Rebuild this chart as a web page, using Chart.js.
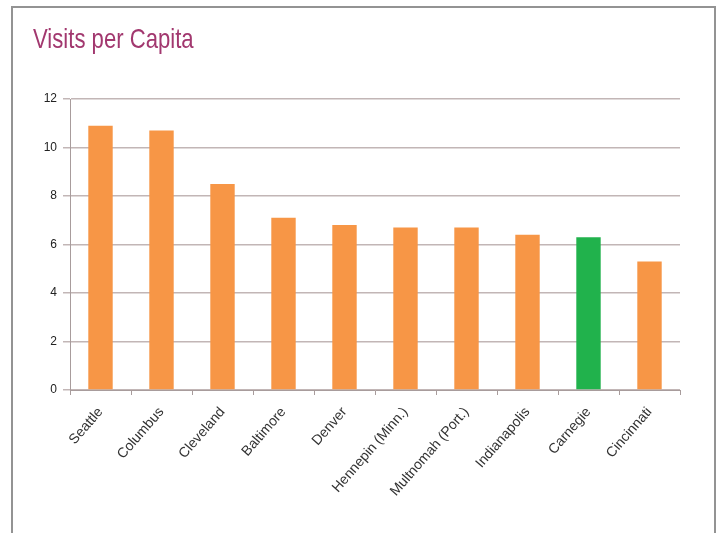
<!DOCTYPE html>
<html>
<head>
<meta charset="utf-8">
<script src="https://cdn.jsdelivr.net/npm/chart.js@4/dist/chart.umd.min.js"></script>
<style>
  html, body { margin: 0; padding: 0; background: #fff; }
  #wrap { position: relative; width: 720px; height: 533px; overflow: hidden; }
  #frame {
    position: absolute; left: 11px; top: 6px; width: 705px; height: 560px;
    border: 2px solid #939393; box-sizing: border-box;
  }
  #title {
    position: absolute; left: 33px; top: 25px; margin: 0;
    font: normal 28px/28px 'Liberation Sans', Arial, sans-serif;
    color: #a2386f; white-space: nowrap;
    transform: scaleX(0.79); transform-origin: left top;
  }
  #chart { position: absolute; left: 0; top: 0; }
</style>
</head>
<body>
<div id="wrap">
  <div id="frame"></div>
  <canvas id="chart" width="720" height="533"></canvas>
  <h1 id="title">Visits per Capita</h1>
</div>
<script>
const libraries = ['Seattle', 'Columbus', 'Cleveland', 'Baltimore', 'Denver',
  'Hennepin (Minn.)', 'Multnomah (Port.)', 'Indianapolis', 'Carnegie', 'Cincinnati'];
const visits = [10.9, 10.7, 8.5, 7.1, 6.8, 6.7, 6.7, 6.4, 6.3, 5.3];
const highlight = 'Carnegie';

const orange = '#f79646';
const green = '#21b24c';
const barColors = libraries.map(name => name === highlight ? green : orange);

const font = "'Liberation Sans', Arial, sans-serif";

new Chart(document.getElementById('chart'), {
  type: 'bar',
  data: {
    labels: libraries,
    datasets: [{
      data: visits,
      backgroundColor: barColors,
      borderWidth: 0,
      barPercentage: 0.4,
      categoryPercentage: 1.0
    }]
  },
  options: {
    responsive: false,
    animation: false,
    layout: { padding: { left: 33, right: 40, top: 99, bottom: 0 } },
    plugins: {
      legend: { display: false },
      tooltip: { enabled: false },
      title: { display: false }
    },
    scales: {
      x: {
        grid: {
          display: true,
          drawOnChartArea: false,
          offset: true,
          tickLength: 5,
          color: '#a89c9c'
        },
        border: { display: true, color: '#a89c9c', width: 1 },
        ticks: {
          color: '#333',
          font: { family: font, size: 14 },
          maxRotation: 49,
          minRotation: 49,
          padding: 9
        },
        afterFit: s => { s.height = 143; }
      },
      y: {
        min: 0,
        max: 12,
        ticks: {
          stepSize: 2,
          color: '#222',
          font: { family: font, size: 12 },
          padding: 6
        },
        grid: {
          color: '#c2b6b6',
          lineWidth: 1.5,
          tickLength: 7
        },
        border: { display: true, color: '#a89c9c', width: 1 },
        afterFit: s => { s.width = 37; }
      }
    }
  }
});
</script>
</body>
</html>
